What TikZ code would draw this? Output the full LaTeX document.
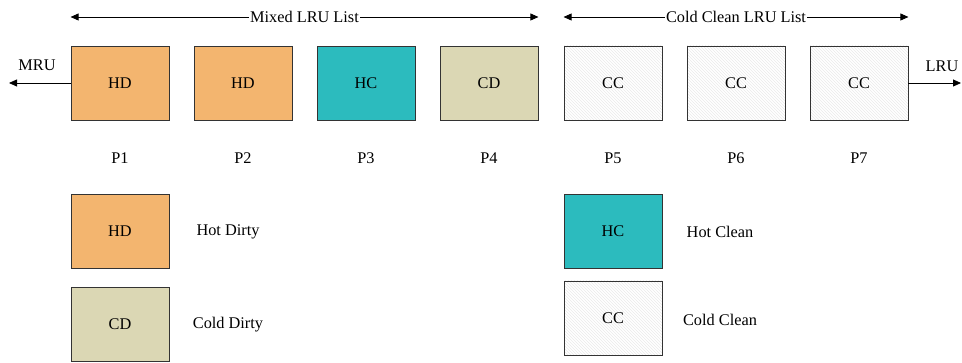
\documentclass[tikz,border=0pt]{standalone}
\usepackage{fontspec}
\setmainfont{Liberation Serif}
\usetikzlibrary{arrows.meta,patterns,calc}

\definecolor{hotdirty}{RGB}{243,181,111}
\definecolor{hotclean}{RGB}{44,187,190}
\definecolor{colddirty}{RGB}{219,215,180}

\tikzset{
  page/.style={draw=black!80,line width=0.8pt,minimum width=98pt,minimum height=74pt,inner sep=0pt},
  hd/.style={page,fill=hotdirty},
  hc/.style={page,fill=hotclean},
  cd/.style={page,fill=colddirty},
  cc/.style={page,preaction={fill=white},pattern=north west lines,pattern color=black!8},
  tip/.style={-{Triangle[length=8pt,width=7pt]}},
  both/.style={{Triangle[length=8pt,width=7pt]}-{Triangle[length=8pt,width=7pt]}}
}

\begin{document}
\begin{tikzpicture}[x=1pt,y=-1pt,every node/.style={font=\fontsize{16.3}{19}\selectfont}]
\useasboundingbox (0,0) rectangle (962,363);

% the seven pages
\node[hd] (p1) at (120,83) {HD};
\node[hd] (p2) at (243,83) {HD};
\node[hc] (p3) at (366,83) {HC};
\node[cd] (p4) at (489,83) {CD};
\node[cc] (p5) at (613,83) {CC};
\node[cc] (p6) at (736,83) {CC};
\node[cc] (p7) at (859,83) {CC};

\foreach \i in {1,...,7}
  \node (lab\i) at ($(p\i.center)+(0,75)$) {P\i};

% list ranges
\coordinate (top) at (0,17);
\draw[both,line width=0.8pt] (p1.north west |- top) -- node[fill=white,inner sep=1pt] (mixed) {Mixed LRU List} (p4.north east |- top);
\draw[both,line width=0.8pt] (p5.north west |- top) -- node[fill=white,inner sep=1pt] (cold) {Cold Clean LRU List} (p7.north east |- top);

% ends
\coordinate (mruend) at (9,83);
\coordinate (lruend) at (961,83);
\draw[tip,line width=0.8pt] (p1.west) -- (mruend);
\draw[tip,line width=0.8pt] (p7.east) -- (lruend);
\node (mru) at (37,65) {MRU};
\node (lru) at (942,66) {LRU};

% legend
\node[hd] (khd) at (120,231) {HD};
\node[cd] (kcd) at (120,324) {CD};
\node[hc] (khc) at (613,231) {HC};
\node[cc] (kcc) at (613,318) {CC};
\node (thd) at (228,232) {Hot Dirty};
\node (tcd) at (228,325) {Cold Dirty};
\node (thc) at (720,232) {Hot Clean};
\node (tcc) at (720,320) {Cold Clean};
\end{tikzpicture}
\end{document}
